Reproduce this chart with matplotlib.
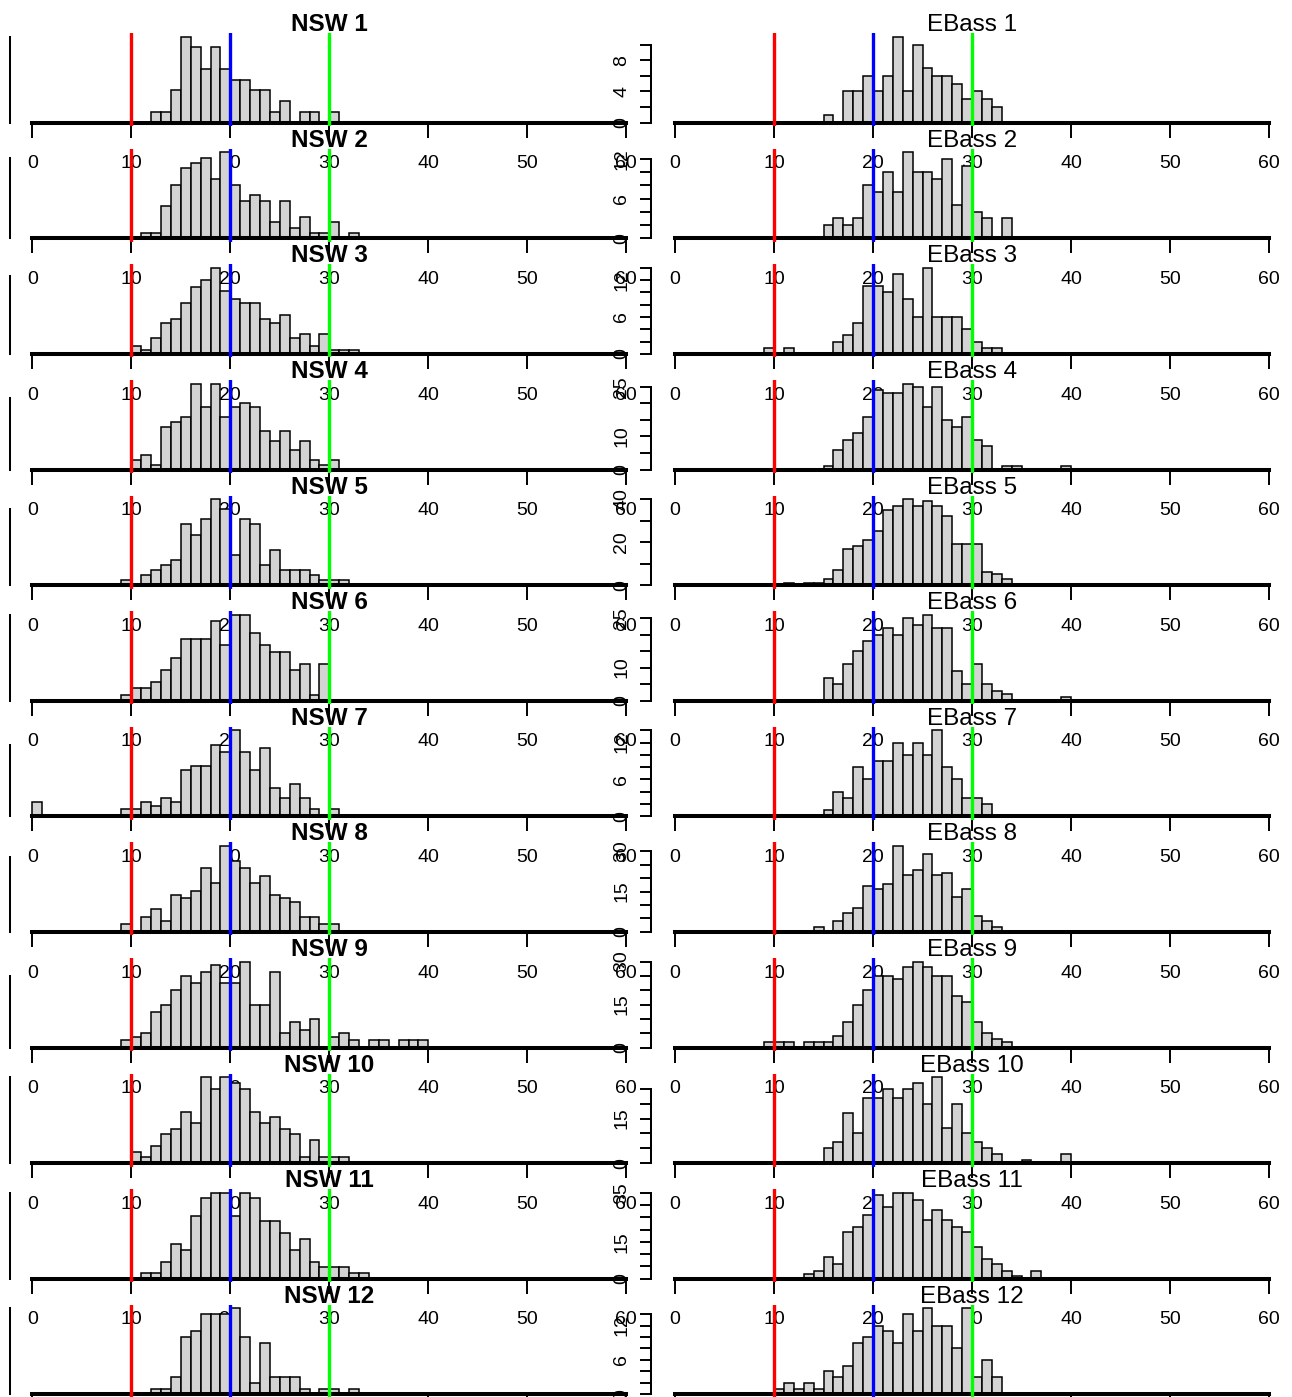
import matplotlib
matplotlib.use("Agg")
import matplotlib.pyplot as plt
from matplotlib.ticker import FixedLocator, FixedFormatter, NullFormatter

plt.rcParams['font.family'] = ['Liberation Sans', 'DejaVu Sans']

# ---------------- data: counts per 1-unit bin, starting at the given bin ----------------
NSW1_START, NSW1 = 12, [1, 1, 3, 8, 7, 5, 7, 5, 4, 4, 3, 3, 1, 2, 0, 1, 1, 0, 1]
NSW2_START, NSW2 = 11, [1, 1, 6, 10, 13, 14, 15, 11, 16, 10, 7, 8, 7, 3, 7, 2, 4, 1, 1, 3, 0, 1]
NSW3_START, NSW3 = 10, [2, 1, 4, 8, 9, 13, 17, 19, 22, 16, 14, 13, 13, 9, 8, 10, 4, 5, 2, 5, 1, 1, 1]
NSW4_START, NSW4 = 10, [2, 3, 1, 9, 10, 11, 18, 13, 18, 11, 13, 14, 13, 8, 6, 8, 4, 6, 2, 1, 2]
NSW5_START, NSW5 = 9, [1, 0, 2, 3, 4, 5, 12, 10, 13, 17, 15, 6, 13, 12, 4, 7, 3, 3, 3, 2, 1, 1, 1]
NSW6_START, NSW6 = 9, [1, 2, 2, 3, 5, 7, 10, 10, 10, 13, 9, 14, 14, 11, 9, 8, 8, 5, 6, 1, 6]
NSW7_START, NSW7 = 0, [4, 0, 0, 0, 0, 0, 0, 0, 0, 2, 2, 4, 3, 5, 4, 13, 14, 14, 20, 18, 24, 18,
                       13, 19, 8, 5, 9, 5, 2, 0, 2]
NSW8_START, NSW8 = 9, [2, 0, 4, 6, 3, 10, 9, 11, 17, 13, 23, 19, 17, 13, 15, 10, 9, 8, 4, 4, 2, 2]
NSW9_START, NSW9 = 9, [2, 3, 4, 10, 12, 16, 20, 18, 21, 23, 18, 18, 24, 12, 12, 21, 4, 7, 5, 8,
                       0, 3, 4, 2, 0, 2, 2, 0, 2, 2, 2]
NSW10_START, NSW10 = 10, [2, 1, 3, 5, 6, 9, 7, 15, 13, 15, 14, 13, 9, 7, 8, 6, 5, 1, 4, 1, 1, 1]
NSW11_START, NSW11 = 11, [1, 1, 3, 6, 5, 11, 14, 15, 15, 11, 15, 14, 10, 10, 8, 5, 7, 3, 2, 2, 2, 1, 1]
NSW12_START, NSW12 = 12, [1, 1, 3, 10, 11, 14, 14, 14, 15, 10, 2, 9, 3, 3, 3, 1, 0, 1, 1, 0, 1]

EB1_START, EB1 = 15, [1, 0, 4, 4, 6, 4, 6, 11, 4, 10, 7, 6, 6, 5, 3, 4, 3, 2]
EB2_START, EB2 = 15, [2, 3, 2, 3, 8, 7, 10, 7, 13, 10, 10, 9, 12, 5, 11, 4, 3, 0, 3]
EB3_START, EB3 = 9, [1, 0, 1, 0, 0, 0, 0, 2, 3, 5, 11, 11, 10, 13, 9, 6, 14, 6, 6, 6, 4, 2, 1, 1]
EB4_START, EB4 = 15, [1, 6, 9, 11, 16, 24, 23, 23, 26, 25, 19, 25, 15, 13, 16, 9, 7, 0, 1, 1,
                      0, 0, 0, 0, 1]
EB5_START, EB5 = 11, [1, 0, 1, 1, 3, 7, 17, 18, 21, 25, 35, 37, 40, 37, 39, 37, 32, 19, 19, 19, 6, 5, 3]
EB6_START, EB6 = 15, [7, 5, 11, 15, 18, 20, 22, 20, 25, 23, 26, 22, 22, 9, 5, 11, 5, 3, 2, 0,
                      0, 0, 0, 0, 1]
EB7_START, EB7 = 15, [1, 4, 3, 8, 6, 9, 9, 12, 10, 12, 10, 14, 8, 6, 3, 3, 2]
EB8_START, EB8 = 14, [2, 0, 4, 7, 9, 17, 16, 18, 32, 21, 23, 29, 21, 22, 13, 16, 6, 4, 2]
EB9_START, EB9 = 9, [2, 2, 2, 0, 2, 2, 2, 4, 9, 15, 20, 25, 25, 24, 28, 30, 28, 25, 25, 18, 16,
                     9, 5, 3, 2]
EB10_START, EB10 = 15, [5, 7, 17, 10, 22, 22, 25, 22, 25, 27, 20, 29, 12, 20, 10, 7, 5, 3, 0, 0,
                        1, 0, 0, 0, 3]
EB11_START, EB11 = 13, [2, 3, 9, 6, 19, 21, 26, 34, 29, 35, 35, 32, 24, 28, 24, 21, 19, 13, 8, 6,
                        3, 1, 0, 3]
EB12_START, EB12 = 10, [1, 2, 1, 2, 1, 4, 3, 5, 9, 10, 12, 11, 9, 14, 11, 15, 12, 12, 8, 15, 3, 6, 3]

NSW_TITLES = ["NSW %d" % i for i in range(1, 13)]
EB_TITLES = ["EBass %d" % i for i in range(1, 13)]

NSW_YSTEP = [2, 5, 5, 5, 5, 2, 5, 5, 5, 5, 5, 5]
EB_YSTEP = [2, 2, 2, 5, 10, 5, 2, 5, 5, 5, 5, 2]
EB_YLABELS = [[0, 4, 8], [0, 6, 12], [0, 6, 12], [0, 10, 25], [0, 20, 40], [0, 10, 25],
              [0, 6, 12], [0, 15, 30], [0, 15, 30], [0, 15], [0, 15, 35], [0, 6, 12]]

X_TICKS = [0, 10, 20, 30, 40, 50, 60]
REF_LINES = [10, 20, 30]
REF_COLORS = ['#FF0000', '#0000FF', '#00FF00']

nsw_panels = [(NSW1_START, NSW1), (NSW2_START, NSW2), (NSW3_START, NSW3), (NSW4_START, NSW4),
              (NSW5_START, NSW5), (NSW6_START, NSW6), (NSW7_START, NSW7), (NSW8_START, NSW8),
              (NSW9_START, NSW9), (NSW10_START, NSW10), (NSW11_START, NSW11), (NSW12_START, NSW12)]
eb_panels = [(EB1_START, EB1), (EB2_START, EB2), (EB3_START, EB3), (EB4_START, EB4),
             (EB5_START, EB5), (EB6_START, EB6), (EB7_START, EB7), (EB8_START, EB8),
             (EB9_START, EB9), (EB10_START, EB10), (EB11_START, EB11), (EB12_START, EB12)]

# ---------------- layout (pixels) ----------------
W, H = 1292, 1397
fig = plt.figure(figsize=(W / 100, H / 100), dpi=100)

ROW0 = 122.7      # baseline of first row
ROWSTEP = 115.6   # distance between rows
BARH = 86.0       # pixel height of tallest bar
UNIT = 9.9        # pixels per x unit
XMIN, XMAX = -2.4, 62.4
COL_ZERO = [32.3, 675.0]  # pixel x of value 0 in each column
NROWS = 12


def panel(col, row, start, counts, title, bold, ystep, ylabels):
    base = ROW0 + ROWSTEP * row
    m = max(counts)
    bottom_px = base + 0.04 * BARH
    height_px = 1.08 * BARH
    left_px = COL_ZERO[col] + XMIN * UNIT
    width_px = (XMAX - XMIN) * UNIT
    ax = fig.add_axes([left_px / W, 1 - bottom_px / H, width_px / W, height_px / H])
    ax.set_facecolor('none')
    ax.set_xlim(XMIN, XMAX)
    ax.set_ylim(-0.04 * m, 1.04 * m)

    bins = list(range(start, start + len(counts)))
    ax.bar(bins, counts, width=1, align='edge', color='#D3D3D3',
           edgecolor='black', linewidth=1.1, zorder=2)
    for v, c in zip(REF_LINES, REF_COLORS):
        ax.axvline(v, color=c, lw=2.4, zorder=3)

    for s in ('top', 'right'):
        ax.spines[s].set_visible(False)
    sb = ax.spines['bottom']
    sb.set_position(('data', 0))
    sb.set_bounds(X_TICKS[0], X_TICKS[-1])
    sb.set_linewidth(2.9)
    sb.set_zorder(2.5)
    ax.xaxis.set_major_locator(FixedLocator(X_TICKS))
    ax.xaxis.set_major_formatter(FixedFormatter([str(t) for t in X_TICKS]))
    ax.tick_params(axis='x', direction='out', length=10.5, width=1.4, pad=13,
                   labelsize=14, colors='black', labelbottom=(row < NROWS - 1))

    top_tick = (m // ystep) * ystep
    yt = list(range(0, top_tick + 1, ystep))
    sl = ax.spines['left']
    sl.set_bounds(0, top_tick)
    sl.set_linewidth(1.45)
    ax.yaxis.set_major_locator(FixedLocator(yt))
    if ylabels is None:
        # left column: only the axis line shows at the image's left edge
        sl.set_position(('data', (10.0 - COL_ZERO[col]) / UNIT))
        ax.yaxis.set_major_formatter(NullFormatter())
        ax.tick_params(axis='y', length=0)
    else:
        ax.yaxis.set_major_formatter(
            FixedFormatter([str(t) if t in ylabels else '' for t in yt]))
        ax.tick_params(axis='y', direction='out', length=8, width=1.4, pad=7,
                       labelsize=14, labelrotation=90, colors='black')
        for lab in ax.get_yticklabels():
            lab.set_verticalalignment('center')

    ax.annotate(title, xy=(0.5, 1.0), xycoords='axes fraction', xytext=(0, 1.5),
                textcoords='offset points', ha='center', va='baseline',
                fontsize=17.5, fontweight='bold' if bold else 'normal', zorder=5)
    return ax


for i in range(NROWS):
    s, c = nsw_panels[i]
    panel(0, i, s, c, NSW_TITLES[i], True, NSW_YSTEP[i], None)
    s, c = eb_panels[i]
    panel(1, i, s, c, EB_TITLES[i], False, EB_YSTEP[i], EB_YLABELS[i])

fig.savefig('out.png', dpi=100)
